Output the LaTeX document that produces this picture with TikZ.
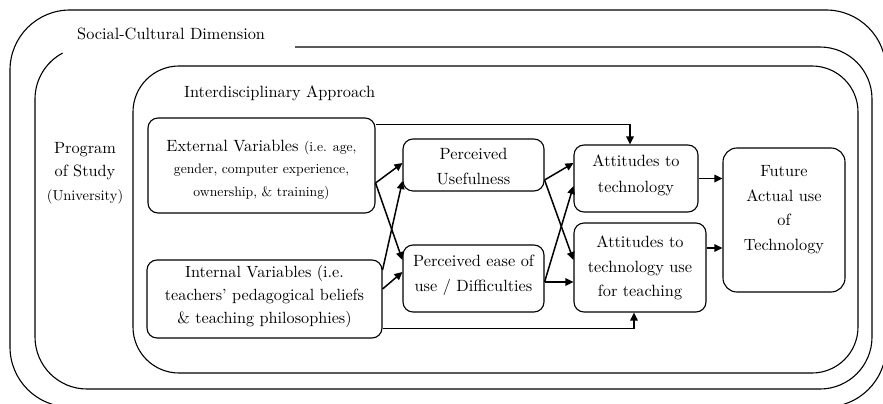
\documentclass[tikz,border=0pt]{standalone}
\usepackage{fontspec}
\setmainfont{lmroman10-regular}[Extension=.otf]
\usetikzlibrary{arrows.meta}
\begin{document}
\begin{tikzpicture}[x=1pt,y=-1pt,
  frame/.style={line width=1.1pt},
  box/.style={draw, line width=1.1pt, rounded corners=10pt, inner sep=0pt},
  txt/.style={inner sep=0pt, align=center, font=\fontsize{16.3}{24.5}\selectfont},
  lbl/.style={inner sep=0pt, font=\fontsize{16.3}{24}\selectfont},
  arr/.style={line width=1.5pt, -{Triangle[length=8pt,width=7.5pt]}}]
\useasboundingbox (0,0) rectangle (883,404);
\clip (0,0) rectangle (883,404);
% outer frame (Social-Cultural Dimension)
\draw[frame, rounded corners=60pt] (10,10) rectangle (886,407);
% second frame (Program of Study) with a gap in the top edge
\draw[frame] (295,47) -- (820,47) arc[start angle=270, end angle=360, radius=52]
  -- (872,337) arc[start angle=0, end angle=90, radius=52]
  -- (87,389) arc[start angle=90, end angle=180, radius=52]
  -- (35,99) arc[start angle=180, end angle=242, radius=52];
% third frame (Interdisciplinary Approach)
\draw[frame, rounded corners=46pt] (133,66) rectangle (858,373);
% frame labels
\node[lbl, anchor=west] (scd) at (77,34) {Social-Cultural Dimension};
\node[lbl, anchor=west] (ia) at (184,93) {Interdisciplinary Approach};
\node[txt, font=\fontsize{16.3}{23.5}\selectfont] (pos) at (85,173) {Program\\of Study\\{\fontsize{14.5}{23.5}\selectfont (University)}};
% boxes
\node[box, minimum width=227pt, minimum height=95pt] (ext) at (261.5,165.5) {};
\node[box, minimum width=235pt, minimum height=78pt] (int) at (264.5,299) {};
\node[box, minimum width=141pt, minimum height=52pt] (pu) at (473.5,165) {};
\node[box, minimum width=141pt, minimum height=67pt] (pe) at (473.5,278.5) {};
\node[box, minimum width=124pt, minimum height=67pt] (at) at (636,178.5) {};
\node[box, minimum width=132pt, minimum height=89pt] (att) at (640,267.5) {};
\node[box, minimum width=122pt, minimum height=144pt, rounded corners=14pt] (fut) at (784,220) {};
% box texts
\node[txt, font=\fontsize{16.3}{22.5}\selectfont] (extT) at (261.5,170)
  {External Variables {\fontsize{13.7}{22.5}\selectfont (i.e. age,}\\
   {\fontsize{13.7}{22.5}\selectfont gender, computer experience,}\\
   {\fontsize{13.7}{22.5}\selectfont ownership, \& training)}};
\node[txt, font=\fontsize{16.2}{23}\selectfont] (intT) at (264.5,296)
  {Internal Variables (i.e.\\teachers' pedagogical beliefs\\\& teaching philosophies)};
\node[txt, font=\fontsize{16.3}{25}\selectfont] (puT) at (473.5,167) {Perceived\\Usefulness};
\node[txt] (peT) at (473.5,275.5) {Perceived ease of\\use / Difficulties};
\node[txt, font=\fontsize{16.3}{26}\selectfont] (atT) at (636,175.5) {Attitudes to\\technology};
\node[txt] (attT) at (640,268) {Attitudes to\\technology use\\for teaching};
\node[txt, font=\fontsize{16.3}{24.7}\selectfont] (futT) at (784,209.5) {Future\\Actual use\\of\\Technology};
% connectors
\draw[arr] ([yshift=-7pt]ext.north east) -| ([xshift=-6pt]at.north);
\draw[arr] ([yshift=10pt]int.south east) -| ([xshift=-6pt]att.south);
\draw[arr] ([yshift=-17.5pt]ext.east) -- ([yshift=2pt]pu.west);
\draw[arr] ([yshift=-17.5pt]ext.east) -- ([yshift=18.5pt]pe.west);
\draw[arr] ([yshift=29pt]int.east) -- ([yshift=-16pt]pu.west);
\draw[arr] ([yshift=10pt]int.east) -- ([yshift=6.5pt]pe.west);
\draw[arr] ([yshift=-15pt]pu.east) -- ([yshift=15.5pt]at.west);
\draw[arr] ([yshift=-15pt]pu.east) -- ([yshift=7.5pt]att.west);
\draw[arr] ([yshift=-3.5pt]pe.east) -- ([yshift=-7.5pt]at.west);
\draw[arr] ([yshift=-3.5pt]pe.east) -- ([yshift=-3.5pt]pe.east -| att.west);
\draw[arr] (at.east) -- (at.east -| fut.west);
\draw[arr] ([yshift=19.5pt]att.east) -- ([yshift=19.5pt]att.east -| fut.west);
\end{tikzpicture}
\end{document}
